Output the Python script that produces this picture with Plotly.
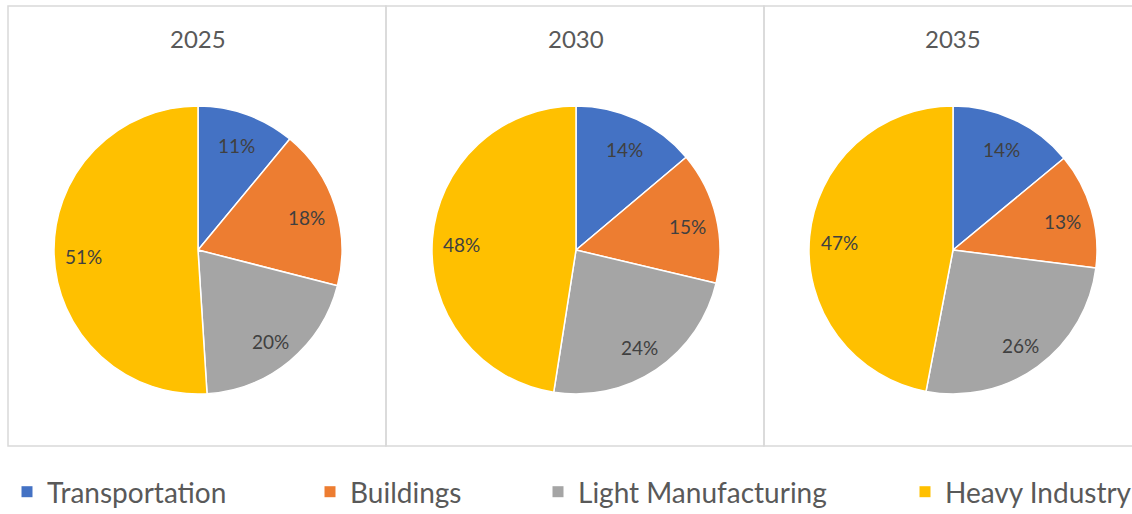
import math
import plotly.graph_objects as go

# Sector shares of total demand, by year (percent)
years = ["2025", "2030", "2035"]
sectors = ["Transportation", "Buildings", "Light Manufacturing", "Heavy Industry"]
share_2025 = [11, 18, 20, 51]
share_2030 = [14, 15, 24, 48]
share_2035 = [14, 13, 26, 47]
shares = [share_2025, share_2030, share_2035]

colors = ["#4472C4", "#ED7D31", "#A5A5A5", "#FFC000"]

W, H = 1132, 514
FONT = "Lato"

fig = go.Figure()

# pie centres in pixels, radius in pixels
centres_x = [198, 576, 953]
centre_y = 250
radius = 144
label_r = 0.80 * 143  # data labels sit along each slice bisector
label_dy = 3          # glyph centre sits a little above the text box centre

for yr, vals, cx in zip(years, shares, centres_x):
    fig.add_trace(go.Pie(
        labels=sectors,
        values=vals,
        name=yr,
        sort=False,
        direction="clockwise",
        rotation=0,
        marker=dict(colors=colors, line=dict(color="white", width=1.5)),
        textinfo="none",
        showlegend=False,
        hoverinfo="label+value",
        domain=dict(
            x=[(cx - radius) / W, (cx + radius) / W],
            y=[1 - (centre_y + radius) / H, 1 - (centre_y - radius) / H],
        ),
    ))
    fig.add_annotation(
        x=cx / W, y=1 - 38.5 / H, xref="paper", yref="paper",
        text=yr, showarrow=False, xanchor="center", yanchor="middle",
        font=dict(family=FONT, size=24, color="#595959"),
    )
    # percentage labels at the slice bisectors (clockwise from 12 o'clock)
    total = sum(vals)
    start = 0.0
    for v in vals:
        mid = (start + v / 2) / total * 2 * math.pi
        start += v
        px = cx + label_r * math.sin(mid)
        py = centre_y + label_dy - label_r * math.cos(mid)
        fig.add_annotation(
            x=px / W, y=1 - py / H, xref="paper", yref="paper",
            text=f"{v}%", showarrow=False, xanchor="center", yanchor="middle",
            font=dict(family=FONT, size=19, color="#404040"),
        )

# legend: one entry per sector, each in its own legend box along the bottom
legend_left = [7, 310, 538, 905]
legend_names = ["legend", "legend2", "legend3", "legend4"]
for name, col, lg in zip(sectors, colors, legend_names):
    fig.add_trace(go.Scatter(
        x=[None], y=[None], mode="markers", name=name,
        marker=dict(symbol="square", size=11, color=col),
        legend=lg, showlegend=True, hoverinfo="skip",
    ))

legend_style = dict(
    orientation="h", xanchor="left", yanchor="middle",
    y=1 - 492 / H, bgcolor="rgba(0,0,0,0)", borderwidth=0,
    font=dict(family=FONT, size=28, color="#595959"),
)
layout_legends = {}
for lg, lx in zip(legend_names, legend_left):
    layout_legends[lg] = dict(legend_style, x=lx / W)

# chart frames
frames = [(8, 386), (386, 764), (764, 1140)]
shapes = []
for x0, x1 in frames:
    shapes.append(dict(
        type="rect", xref="paper", yref="paper",
        x0=x0 / W, x1=x1 / W, y0=1 - 446 / H, y1=1 - 6 / H,
        line=dict(color="#D9D9D9", width=1.5), fillcolor="rgba(0,0,0,0)",
        layer="below",
    ))

fig.update_layout(
    width=W, height=H,
    margin=dict(l=0, r=0, t=0, b=0, autoexpand=False),
    paper_bgcolor="white", plot_bgcolor="white",
    xaxis=dict(visible=False), yaxis=dict(visible=False),
    shapes=shapes,
    **layout_legends,
)

fig.write_html("out.html")
